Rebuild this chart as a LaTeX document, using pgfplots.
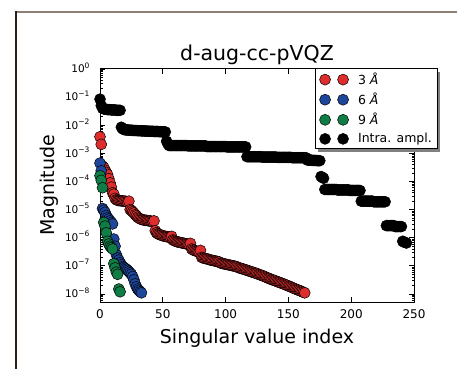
\documentclass[border=0pt]{standalone}
\usepackage{fontspec}
\setmainfont{DejaVu Sans}
\usepackage{pgfplots}
\usepackage{pgfplotstable}
\pgfplotsset{compat=1.18}
\usetikzlibrary{shadows}
\definecolor{cred}{RGB}{222,45,45}
\definecolor{cblue}{RGB}{30,70,155}
\definecolor{cgreen}{RGB}{16,125,70}
\definecolor{frametop}{RGB}{140,128,118}
\definecolor{frameleft}{RGB}{45,30,20}
\newcommand{\ytl}[1]{10\raisebox{0.45em}{\fontsize{7.5}{8}\selectfont #1}}

\pgfplotstableread[row sep=\\]{
y\\
3.89e-3\\ 2.09e-3\\ 3.55e-4\\ 3.16e-4\\ 2.51e-4\\ 2.09e-4\\ 1.78e-4\\ 1.26e-4\\ 8.91e-5\\ 6.31e-5\\
3.98e-5\\ 3.55e-5\\ 2.51e-5\\ 2.24e-5\\ 2.14e-5\\ 2.09e-5\\ 2.09e-5\\ 2.04e-5\\ 2.04e-5\\ 2.00e-5\\
2.00e-5\\ 1.91e-5\\ 1.86e-5\\ 2.00e-5\\ 1.00e-5\\ 9.33e-6\\ 8.32e-6\\ 7.59e-6\\ 6.61e-6\\ 6.03e-6\\
5.37e-6\\ 5.01e-6\\ 4.68e-6\\ 4.47e-6\\ 4.37e-6\\ 4.27e-6\\ 4.17e-6\\ 4.17e-6\\ 4.07e-6\\ 3.98e-6\\
3.98e-6\\ 3.80e-6\\ 3.72e-6\\ 3.98e-6\\ 1.78e-6\\ 1.51e-6\\ 1.38e-6\\ 1.32e-6\\ 1.26e-6\\ 1.23e-6\\
1.17e-6\\ 1.15e-6\\ 1.12e-6\\ 1.10e-6\\ 1.07e-6\\ 1.05e-6\\ 1.02e-6\\ 1.12e-6\\ 8.32e-7\\ 7.94e-7\\
7.59e-7\\ 7.24e-7\\ 7.08e-7\\ 6.92e-7\\ 6.76e-7\\ 6.61e-7\\ 6.46e-7\\ 6.31e-7\\ 6.17e-7\\ 6.03e-7\\
5.89e-7\\ 5.75e-7\\ 6.31e-7\\ 3.98e-7\\ 3.72e-7\\ 3.55e-7\\ 3.39e-7\\ 3.31e-7\\ 3.24e-7\\ 3.16e-7\\
3.55e-7\\ 2.00e-7\\ 1.91e-7\\ 1.86e-7\\ 1.82e-7\\ 1.78e-7\\ 1.74e-7\\ 1.66e-7\\ 1.62e-7\\ 1.58e-7\\
1.55e-7\\ 1.51e-7\\ 1.48e-7\\ 1.45e-7\\ 1.41e-7\\ 1.38e-7\\ 1.26e-7\\ 1.23e-7\\ 1.20e-7\\ 1.17e-7\\
1.15e-7\\ 1.12e-7\\ 1.10e-7\\ 1.07e-7\\ 1.05e-7\\ 1.02e-7\\ 1.00e-7\\ 9.77e-8\\ 9.55e-8\\ 9.33e-8\\
8.71e-8\\ 8.51e-8\\ 8.13e-8\\ 7.94e-8\\ 7.76e-8\\ 7.41e-8\\ 7.24e-8\\ 6.92e-8\\ 6.76e-8\\ 6.46e-8\\
6.31e-8\\ 6.03e-8\\ 5.89e-8\\ 5.62e-8\\ 5.50e-8\\ 5.37e-8\\ 5.01e-8\\ 4.90e-8\\ 4.68e-8\\ 4.57e-8\\
4.37e-8\\ 4.17e-8\\ 3.98e-8\\ 3.80e-8\\ 3.63e-8\\ 3.55e-8\\ 3.31e-8\\ 3.24e-8\\ 3.09e-8\\ 3.02e-8\\
2.88e-8\\ 2.75e-8\\ 2.69e-8\\ 2.57e-8\\ 2.45e-8\\ 2.40e-8\\ 2.29e-8\\ 2.19e-8\\ 2.09e-8\\ 2.04e-8\\
1.91e-8\\ 1.86e-8\\ 1.78e-8\\ 1.70e-8\\ 1.62e-8\\ 1.55e-8\\ 1.48e-8\\ 1.41e-8\\ 1.38e-8\\ 1.32e-8\\
1.26e-8\\ 1.20e-8\\ 1.15e-8\\ 1.10e-8\\
}\redtab

\pgfplotstableread[row sep=\\]{
y\\
4.5e-4\\ 2.4e-4\\ 1.1e-5\\ 9.5e-6\\ 8.0e-6\\ 6.2e-6\\ 5.2e-6\\ 4.6e-6\\ 4.0e-6\\ 3.5e-6\\
3.1e-6\\ 9.0e-7\\ 5.0e-7\\ 2.5e-7\\ 1.9e-7\\ 1.6e-7\\ 1.3e-7\\ 1.1e-7\\ 9.5e-8\\ 8.8e-8\\
8.2e-8\\ 7.6e-8\\ 7.0e-8\\ 6.3e-8\\ 5.6e-8\\ 5.0e-8\\ 4.2e-8\\ 3.2e-8\\ 2.3e-8\\ 1.8e-8\\
1.5e-8\\ 1.35e-8\\ 1.2e-8\\ 1.1e-8\\
}\bluetab

\pgfplotstableread[row sep=\\]{
y\\
1.6e-4\\ 1.1e-4\\ 6.0e-5\\ 3.5e-6\\ 2.6e-6\\ 1.5e-6\\ 7.5e-7\\ 6.0e-7\\ 5.0e-7\\ 4.5e-7\\
4.0e-7\\ 1.2e-7\\ 8.5e-8\\ 6.0e-8\\ 5.0e-8\\ 1.5e-8\\ 1.2e-8\\
}\greentab

\pgfplotstableread[row sep=\\]{
y\\
0.085\\ 0.050\\ 0.040\\
0.038\\ 0.037\\ 0.037\\ 0.036\\ 0.036\\ 0.036\\ 0.035\\ 0.035\\ 0.035\\ 0.035\\ 0.034\\ 0.034\\ 0.034\\ 0.034\\
0.0085\\ 0.0075\\
0.0070\\ 0.0069\\ 0.0068\\ 0.0068\\ 0.0067\\ 0.0067\\ 0.0066\\ 0.0066\\ 0.0065\\ 0.0065\\
0.0065\\ 0.0064\\ 0.0064\\ 0.0064\\ 0.0063\\ 0.0063\\ 0.0063\\ 0.0062\\ 0.0062\\ 0.0062\\
0.0061\\ 0.0061\\ 0.0061\\ 0.0061\\ 0.0060\\ 0.0060\\ 0.0060\\ 0.0060\\ 0.0059\\ 0.0059\\
0.0059\\ 0.0058\\ 0.0058\\ 0.0058\\
0.0027\\ 0.0022\\
0.0019\\ 0.0019\\ 0.0019\\ 0.0019\\ 0.0019\\ 0.0019\\ 0.0019\\ 0.0019\\ 0.0019\\ 0.0019\\
0.0019\\ 0.0019\\ 0.0019\\ 0.0019\\ 0.0019\\
0.00185\\ 0.00185\\ 0.00185\\ 0.00185\\ 0.00185\\ 0.00185\\ 0.00185\\ 0.00185\\ 0.00185\\ 0.00185\\
0.00185\\ 0.00185\\ 0.00185\\ 0.00185\\ 0.00185\\
0.00175\\ 0.00175\\ 0.00175\\ 0.00175\\ 0.00175\\ 0.00175\\ 0.00175\\ 0.00175\\ 0.00175\\ 0.00175\\
0.00175\\ 0.00175\\ 0.00175\\ 0.00175\\ 0.00175\\ 0.00175\\
0.0017\\ 0.0017\\ 0.0017\\ 0.0017\\ 0.0017\\ 0.0017\\ 0.0017\\ 0.0017\\ 0.0017\\ 0.0017\\
0.0017\\ 0.0017\\ 0.0017\\ 0.0017\\ 0.0017\\ 0.0017\\
7.6e-4\\ 7.6e-4\\ 7.6e-4\\ 7.6e-4\\ 7.6e-4\\ 7.6e-4\\ 7.6e-4\\ 7.6e-4\\ 7.6e-4\\ 7.6e-4\\ 7.6e-4\\ 7.6e-4\\
7.4e-4\\ 7.4e-4\\ 7.4e-4\\ 7.4e-4\\ 7.4e-4\\ 7.4e-4\\ 7.4e-4\\ 7.4e-4\\ 7.4e-4\\ 7.4e-4\\ 7.4e-4\\ 7.4e-4\\
7.2e-4\\ 7.2e-4\\ 7.2e-4\\ 7.2e-4\\ 7.2e-4\\ 7.2e-4\\ 7.2e-4\\ 7.2e-4\\ 7.2e-4\\ 7.2e-4\\ 7.2e-4\\ 7.2e-4\\
7.0e-4\\ 7.0e-4\\ 7.0e-4\\ 7.0e-4\\ 7.0e-4\\ 7.0e-4\\ 7.0e-4\\ 7.0e-4\\ 7.0e-4\\ 7.0e-4\\ 7.0e-4\\ 7.0e-4\\
5.8e-4\\ 5.8e-4\\ 5.8e-4\\ 5.8e-4\\ 5.6e-4\\ 5.6e-4\\ 5.6e-4\\ 5.6e-4\\ 5.5e-4\\ 5.5e-4\\ 5.5e-4\\
1.5e-4\\ 1.4e-4\\ 1.3e-4\\
5.2e-5\\ 5.2e-5\\ 5.2e-5\\ 5.2e-5\\ 5.2e-5\\ 5.2e-5\\ 5.2e-5\\ 5.2e-5\\ 5.2e-5\\ 5.2e-5\\
5.0e-5\\ 5.0e-5\\ 5.0e-5\\ 5.0e-5\\ 5.0e-5\\ 5.0e-5\\ 5.0e-5\\ 5.0e-5\\ 5.0e-5\\ 5.0e-5\\
4.8e-5\\ 4.8e-5\\ 4.8e-5\\ 4.8e-5\\ 4.8e-5\\ 4.8e-5\\ 4.8e-5\\ 4.8e-5\\ 4.8e-5\\
2.0e-5\\ 2.0e-5\\ 2.0e-5\\ 2.0e-5\\ 2.0e-5\\ 2.0e-5\\ 2.0e-5\\ 2.0e-5\\ 2.0e-5\\ 2.0e-5\\
1.9e-5\\ 1.9e-5\\ 1.9e-5\\ 1.9e-5\\ 1.9e-5\\ 1.9e-5\\ 1.9e-5\\ 1.9e-5\\ 1.9e-5\\ 1.9e-5\\
2.7e-6\\ 2.7e-6\\ 2.7e-6\\ 2.7e-6\\ 2.7e-6\\ 2.7e-6\\ 2.7e-6\\
2.5e-6\\ 2.5e-6\\ 2.5e-6\\ 2.5e-6\\ 2.5e-6\\ 2.5e-6\\
7.5e-7\\ 7.0e-7\\ 6.8e-7\\ 6.5e-7\\
}\blacktab

\begin{document}
\begin{tikzpicture}
\useasboundingbox (0,0) rectangle (457pt,369pt);
\draw[frametop, line width=1.2pt] (16pt,357pt) -- (457pt,357pt);
\draw[frameleft, line width=1.2pt] (16pt,357.6pt) -- (16pt,0pt);
\begin{axis}[
  at={(100pt,67pt)}, anchor=south west,
  scale only axis, width=314pt, height=233pt,
  xmin=0, xmax=250, ymode=log, ymin=5.19e-9, ymax=1,
  xtick={0,50,100,150,200,250},
  ytick={1e-8,1e-7,1e-6,1e-5,1e-4,1e-3,1e-2,1e-1,1},
  yticklabels={\ytl{−8},\ytl{−7},\ytl{−6},\ytl{−5},\ytl{−4},\ytl{−3},\ytl{−2},\ytl{−1},\ytl{0}},
  minor ytick={6e-9,7e-9,8e-9,9e-9,
    2e-8,3e-8,4e-8,5e-8,6e-8,7e-8,8e-8,9e-8,
    2e-7,3e-7,4e-7,5e-7,6e-7,7e-7,8e-7,9e-7,
    2e-6,3e-6,4e-6,5e-6,6e-6,7e-6,8e-6,9e-6,
    2e-5,3e-5,4e-5,5e-5,6e-5,7e-5,8e-5,9e-5,
    2e-4,3e-4,4e-4,5e-4,6e-4,7e-4,8e-4,9e-4,
    2e-3,3e-3,4e-3,5e-3,6e-3,7e-3,8e-3,9e-3,
    2e-2,3e-2,4e-2,5e-2,6e-2,7e-2,8e-2,9e-2,
    2e-1,3e-1,4e-1,5e-1,6e-1,7e-1,8e-1,9e-1},
  /pgf/number format/assume math mode=true,
  tick align=inside,
  major tick length=5pt, minor tick length=2.5pt,
  every tick/.style={black, line width=0.8pt},
  axis line style={line width=1pt},
  xticklabel style={font=\fontsize{12}{14}\selectfont, anchor=base, yshift=-16.5pt},
  yticklabel style={font=\fontsize{10.5}{12}\selectfont, anchor=base east, xshift=-7pt, yshift=-3.8pt},
  every axis title/.style={at={(0.5,1)}, anchor=base, yshift=8pt, font=\fontsize{20.5}{24}\selectfont},
  title={d-aug-cc-pVQZ},
  every axis x label/.style={at={(0.5,0)}, anchor=base, yshift=-41.5pt, font=\fontsize{19}{22}\selectfont},
  xlabel={Singular value index},
  every axis y label/.style={at={(-0.1446,0.5)}, rotate=90, anchor=base, font=\fontsize{19}{22}\selectfont},
  ylabel={Magnitude},
  legend style={at={(1.076,1.004)}, anchor=north east, draw=black, line width=1pt, fill=white,
    font=\fontsize{12.5}{15}\selectfont,
    drop shadow={shadow xshift=3pt, shadow yshift=-3pt, fill=black!50, opacity=1},
    inner xsep=4pt, inner ysep=3pt, row sep=4pt, cells={anchor=west}, nodes={inner sep=1.5pt},
    /tikz/every odd column/.append style={column sep=7.5pt}},
  legend image code/.code={\path (-5.5pt,-5.5pt) (23.5pt,5.5pt);
    \draw[mark repeat=1,mark phase=1,#1] plot coordinates {(0pt,0pt) (18pt,0pt)};},
]
\addplot[only marks, mark=*, mark size=5.5pt, mark options={fill=cred, draw=black, line width=0.5pt}] table[x expr=\coordindex, y=y] {\redtab};
\addlegendentry{3 \textit{Å}}
\addplot[only marks, mark=*, mark size=5.5pt, mark options={fill=cblue, draw=black, line width=0.5pt}] table[x expr=\coordindex, y=y] {\bluetab};
\addlegendentry{6 \textit{Å}}
\addplot[only marks, mark=*, mark size=5.5pt, mark options={fill=cgreen, draw=black, line width=0.5pt}] table[x expr=\coordindex, y=y] {\greentab};
\addlegendentry{9 \textit{Å}}
\addplot[only marks, mark=*, mark size=5.5pt, mark options={fill=black, draw=black, line width=0.5pt}] table[x expr=\coordindex, y=y] {\blacktab};
\addlegendentry{Intra. ampl.}
\end{axis}
\end{tikzpicture}
\end{document}
